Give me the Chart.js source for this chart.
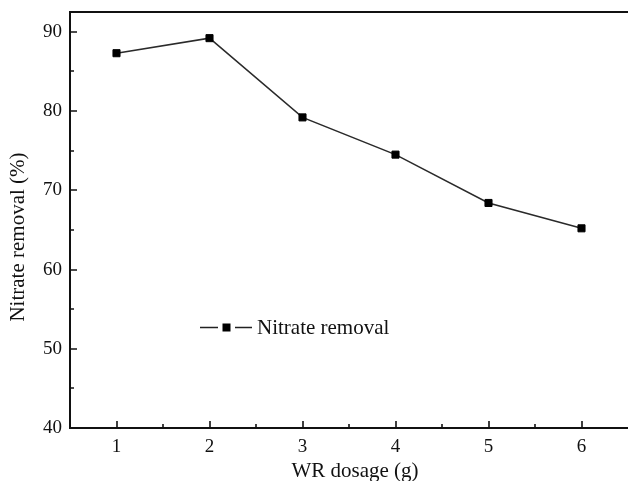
<!DOCTYPE html>
<html>
<head>
<meta charset="utf-8">
<script src="https://cdn.jsdelivr.net/npm/chart.js@4"></script>
<style>
html,body{margin:0;padding:0;background:#fff;overflow:hidden;}
#wrap{width:628px;height:481px;position:relative;}
</style>
</head>
<body>
<div id="wrap"><canvas id="c" width="628" height="481"></canvas></div>
<script>
const dosage = [1, 2, 3, 4, 5, 6];
const removal = [87.3, 89.2, 79.2, 74.5, 68.4, 65.2];
const xTickValues = [1, 2, 3, 4, 5, 6];
const yTickValues = [40, 50, 60, 70, 80, 90];
const seriesName = 'Nitrate removal';
const xTitle = 'WR dosage (g)';
const yTitle = 'Nitrate removal (%)';

const FONT = '"Liberation Serif", "Times New Roman", serif';

const framePlugin = {
  id: 'frame',
  afterDraw(chart) {
    const ctx = chart.ctx;
    const a = chart.chartArea;
    const xs = chart.scales.x, ys = chart.scales.y;
    ctx.save();
    ctx.strokeStyle = '#111';
    ctx.lineWidth = 2;
    ctx.beginPath();
    ctx.moveTo(a.left, a.top); ctx.lineTo(a.right + 4, a.top);
    ctx.moveTo(a.left, a.top - 1); ctx.lineTo(a.left, a.bottom + 1);
    ctx.moveTo(a.left, a.bottom); ctx.lineTo(a.right + 4, a.bottom);
    ctx.stroke();
    ctx.lineWidth = 1.6;
    ctx.beginPath();
    for (let v = xs.min; v <= xs.max + 1e-9; v += 0.5) {
      const major = Math.abs(v - Math.round(v)) < 1e-9;
      const px = Math.round(xs.getPixelForValue(v));
      if (px <= a.left + 1 || px >= a.right - 1) continue;
      const len = major ? 7 : 4;
      ctx.moveTo(px, a.bottom); ctx.lineTo(px, a.bottom - len);
    }
    for (let v = ys.min; v <= ys.max + 1e-9; v += 5) {
      const major = v % 10 === 0;
      const py = Math.round(ys.getPixelForValue(v));
      if (py >= a.bottom - 1) continue;
      const len = major ? 7 : 4;
      ctx.moveTo(a.left, py); ctx.lineTo(a.left + len, py);
    }
    ctx.stroke();

    ctx.fillStyle = '#111';
    ctx.font = '21px ' + FONT;
    ctx.textAlign = 'center';
    ctx.textBaseline = 'alphabetic';
    ctx.fillText(xTitle, 355, 477);
    ctx.save();
    ctx.translate(24, 237);
    ctx.rotate(-Math.PI / 2);
    ctx.fillText(yTitle, 0, 0);
    ctx.restore();

    const ly = 327.5;
    ctx.strokeStyle = '#222';
    ctx.lineWidth = 1.5;
    ctx.beginPath();
    ctx.moveTo(200, ly); ctx.lineTo(218, ly);
    ctx.moveTo(235, ly); ctx.lineTo(252, ly);
    ctx.stroke();
    ctx.fillStyle = '#000';
    ctx.fillRect(222.5, ly - 4, 8, 8);
    ctx.fillStyle = '#111';
    ctx.font = '21px ' + FONT;
    ctx.textAlign = 'left';
    ctx.textBaseline = 'middle';
    ctx.fillText(seriesName, 257, ly + 1);
    ctx.restore();
  }
};

new Chart(document.getElementById('c'), {
  type: 'line',
  data: {
    datasets: [{
      label: seriesName,
      data: dosage.map((x, i) => ({ x: x, y: removal[i] })),
      borderColor: '#2a2a2a',
      borderWidth: 1.5,
      pointStyle: 'rect',
      pointRadius: 5,
      pointBorderWidth: 1,
      pointBackgroundColor: '#000',
      pointBorderColor: '#000',
      tension: 0,
      fill: false
    }]
  },
  options: {
    responsive: false,
    animation: false,
    events: [],
    layout: { autoPadding: false, padding: { top: 12, right: 0, left: 0, bottom: 0 } },
    plugins: { legend: { display: false }, tooltip: { enabled: false } },
    scales: {
      x: {
        type: 'linear',
        min: 0.5,
        max: 6.5,
        afterFit: s => { s.height = 53; s.paddingLeft = 0; s.paddingRight = 0; },
        afterBuildTicks: s => { s.ticks = xTickValues.map(v => ({ value: v })); },
        grid: { display: false, drawTicks: false },
        border: { display: false },
        ticks: { padding: 8, color: '#111', font: { family: FONT, size: 19 }, maxRotation: 0, autoSkip: false }
      },
      y: {
        type: 'linear',
        min: 40,
        max: 92.5,
        afterFit: s => { s.width = 70; s.paddingTop = 0; s.paddingBottom = 0; },
        afterBuildTicks: s => { s.ticks = yTickValues.map(v => ({ value: v })); },
        grid: { display: false, drawTicks: false },
        border: { display: false },
        ticks: { padding: 8, color: '#111', font: { family: FONT, size: 19 } }
      }
    }
  },
  plugins: [framePlugin]
});
</script>
</body>
</html>
